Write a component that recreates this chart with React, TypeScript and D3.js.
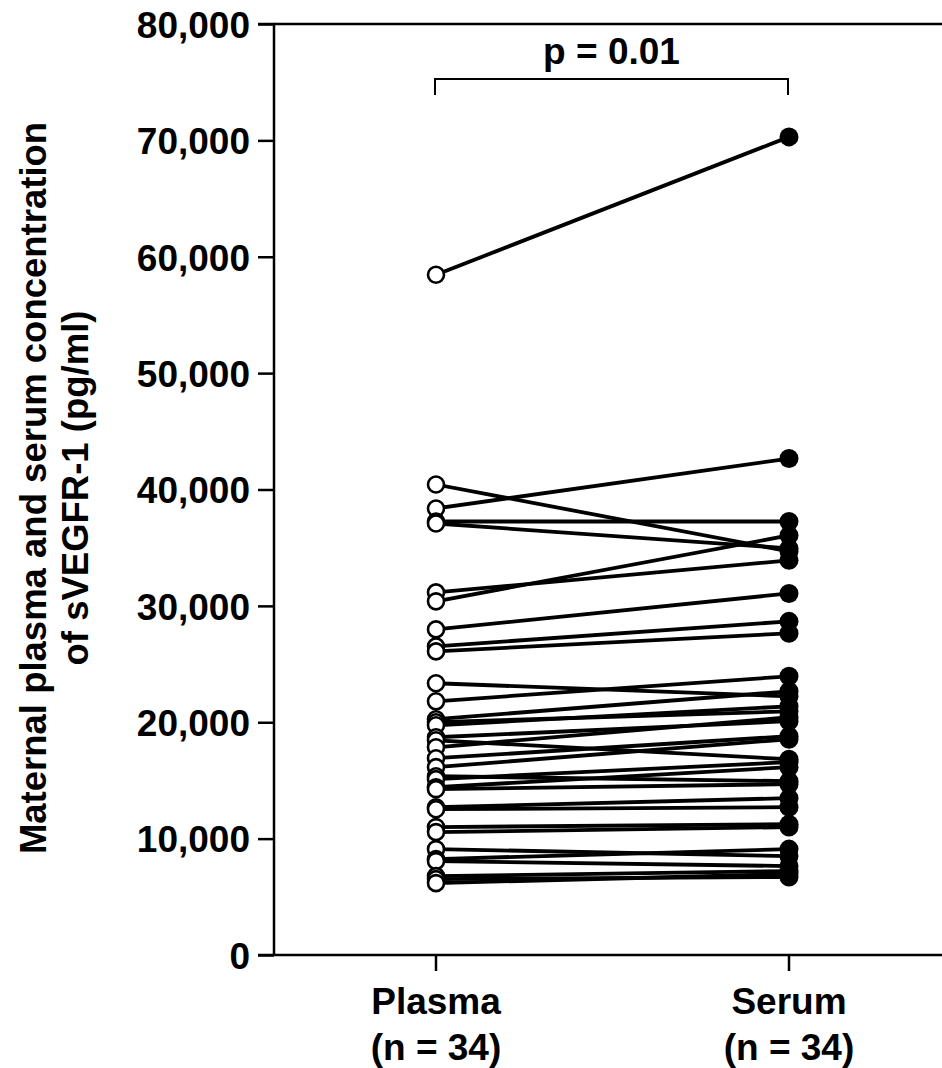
import React, { useEffect, useRef } from "react";
import * as d3 from "d3";

const groups = ["Plasma", "Serum"];
const groupSub = ["(n = 34)", "(n = 34)"];
const yTicks = [0, 10000, 20000, 30000, 40000, 50000, 60000, 70000, 80000];

const plasma = [
  58450, 40430, 38370, 37250, 37080, 31160, 30390, 27980, 26520, 26090,
  23350, 21800, 20260, 20000, 19740, 18710, 18450, 17850, 16910, 16140,
  15360, 15110, 14420, 14250, 12700, 12530, 10990, 10560, 9100, 8240,
  8070, 6780, 6520, 6180,
];
const serum = [
  70300, 34680, 42660, 37250, 34940, 33910, 36050, 31070, 28670, 27640,
  22230, 23950, 22660, 20940, 21370, 20090, 16820, 20430, 18800, 18540,
  14940, 16570, 16140, 14680, 13480, 12700, 11240, 10990, 8500, 9100,
  7640, 7210, 6700, 6950,
];
const pText = "p = 0.01";
const yTitle1 = "Maternal plasma and serum concentration";
const yTitle2 = "of sVEGFR-1 (pg/ml)";

export default function App() {
  const ref = useRef<SVGSVGElement | null>(null);

  useEffect(() => {
    const svg = d3.select(ref.current);
    svg.selectAll("*").remove();
    const W = 942;
    const left = 274, top = 24, bottom = 955;
    const font = "Liberation Sans, Arial, Helvetica, sans-serif";

    const y = d3.scaleLinear().domain([0, 80000]).range([bottom, top]);
    const x = d3.scalePoint<string>().domain(groups).range([436, 789]);

    svg.append("line").attr("x1", left).attr("x2", W).attr("y1", top).attr("y2", top)
      .attr("stroke", "#000").attr("stroke-width", 2.5);

    const yAxis = d3.axisLeft(y).tickValues(yTicks).tickSize(16).tickPadding(8)
      .tickFormat((d) => d3.format(",")(d as number));
    const gy = svg.append("g").attr("transform", `translate(${left},0)`).call(yAxis);
    gy.select(".domain").attr("stroke-width", 2.5).attr("d", `M-16,${top}H0V${bottom}`);
    gy.selectAll(".tick line").attr("stroke-width", 2.5);
    gy.selectAll(".tick text").attr("font-family", font).attr("font-weight", "bold")
      .attr("font-size", 37).attr("fill", "#000").attr("dy", "0.36em");

    svg.append("line").attr("x1", left - 16).attr("x2", W).attr("y1", bottom).attr("y2", bottom)
      .attr("stroke", "#000").attr("stroke-width", 2.5);
    groups.forEach((g, i) => {
      const gx = x(g)!;
      svg.append("line").attr("x1", gx).attr("x2", gx).attr("y1", bottom).attr("y2", bottom + 16)
        .attr("stroke", "#000").attr("stroke-width", 2.5);
      svg.append("text").attr("x", gx).attr("y", 1014).attr("text-anchor", "middle")
        .attr("font-family", font).attr("font-weight", "bold").attr("font-size", 37).text(g);
      svg.append("text").attr("x", gx).attr("y", 1060).attr("text-anchor", "middle")
        .attr("font-family", font).attr("font-weight", "bold").attr("font-size", 37).text(groupSub[i]);
    });

    const yt = svg.append("g").attr("transform", `translate(0,488) rotate(-90)`);
    yt.append("text").attr("x", 0).attr("y", 46).attr("text-anchor", "middle")
      .attr("font-family", font).attr("font-weight", "bold").attr("font-size", 36.5).text(yTitle1);
    yt.append("text").attr("x", 0).attr("y", 88).attr("text-anchor", "middle")
      .attr("font-family", font).attr("font-weight", "bold").attr("font-size", 36.5).text(yTitle2);

    const bx1 = x(groups[0])! - 1, bx2 = x(groups[1])! - 1;
    svg.append("path").attr("d", `M${bx1},95V79H${bx2}V95`).attr("fill", "none")
      .attr("stroke", "#000").attr("stroke-width", 2);
    svg.append("text").attr("x", (bx1 + bx2) / 2).attr("y", 64).attr("text-anchor", "middle")
      .attr("font-family", font).attr("font-weight", "bold").attr("font-size", 37).text(pText);

    const pairs = plasma.map((p, i) => ({ p, s: serum[i] }));
    svg.append("g").selectAll("line").data(pairs).join("line")
      .attr("x1", x(groups[0])!).attr("x2", x(groups[1])!)
      .attr("y1", (d) => y(d.p)).attr("y2", (d) => y(d.s))
      .attr("stroke", "#000").attr("stroke-width", 3.8);

    svg.append("g").selectAll("circle").data(serum).join("circle")
      .attr("cx", x(groups[1])!).attr("cy", (d) => y(d)).attr("r", 9.5).attr("fill", "#000");
    svg.append("g").selectAll("circle").data(plasma).join("circle")
      .attr("cx", x(groups[0])!).attr("cy", (d) => y(d)).attr("r", 8)
      .attr("fill", "#fff").attr("stroke", "#000").attr("stroke-width", 2.6);
  }, []);

  return (
    <svg ref={ref} width={942} height={1068}
      style={{ position: "absolute", left: 0, top: 0, background: "#fff" }} />
  );
}
